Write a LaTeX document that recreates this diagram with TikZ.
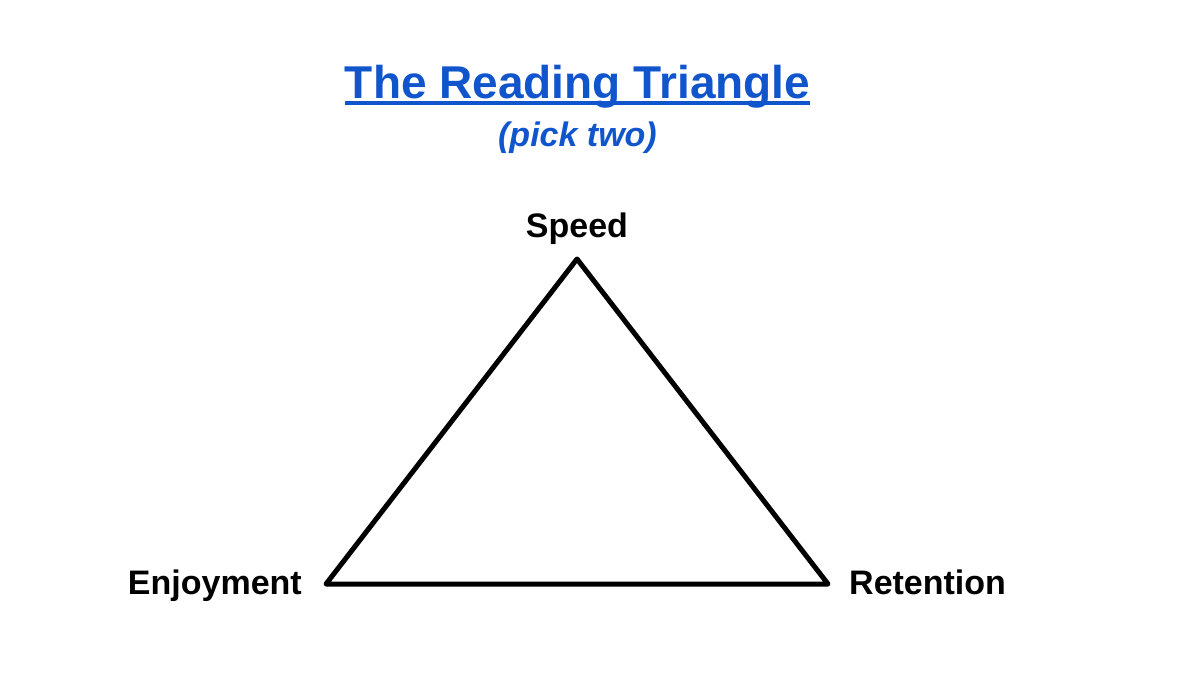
\documentclass[tikz,border=0pt]{standalone}
\usepackage{fontspec}
\setmainfont{Liberation Sans}
\definecolor{titleblue}{HTML}{1155CC}
\begin{document}
\begin{tikzpicture}[x=1pt,y=-1pt,
  lbl/.style={font=\fontsize{34}{40}\selectfont\bfseries, inner sep=0pt, text=black},
  edge/.style={line width=5pt, line join=round, line cap=round}]
\useasboundingbox[fill=white] (0,0) rectangle (1200,675);
\node[font=\fontsize{46}{52}\selectfont\bfseries, text=titleblue, inner sep=0pt, anchor=base] (title) at (577.5,98) {The Reading Triangle};
\draw[titleblue, line width=3.5pt] ([yshift=-5pt]title.base west) -- ([yshift=-5pt]title.base east);
\node[font=\fontsize{34}{40}\selectfont\bfseries\itshape, text=titleblue, inner sep=0pt, anchor=base] (sub) at (577.5,146) {(pick two)};
\coordinate (top) at (577,259);
\coordinate (left) at (326,584);
\coordinate (right) at (828,584);
\draw[edge] (top) -- (right) -- (left) -- cycle;
\node[lbl, anchor=base] (speed) at (577,237) {Speed};
\node[lbl, anchor=base east] (enj) at (302,594) {Enjoyment};
\node[lbl, anchor=base west] (ret) at (849,594) {Retention};
\end{tikzpicture}
\end{document}
